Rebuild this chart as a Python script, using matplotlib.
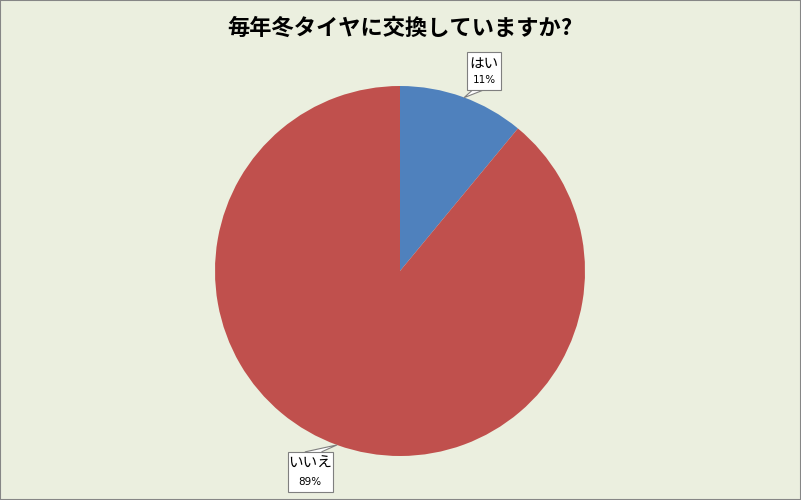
import matplotlib
matplotlib.use("Agg")
import matplotlib.pyplot as plt
import numpy as np
from matplotlib.patches import Rectangle, Polygon

plt.rcParams['font.family'] = ['Noto Sans CJK JP', 'DejaVu Sans']

title = "毎年冬タイヤに交換していますか?"
categories = ["はい", "いいえ"]
values = [11, 89]
colors = ["#4F81BD", "#C0504D"]

W, H = 801, 500
fig = plt.figure(figsize=(W / 100, H / 100), dpi=100)
fig.patch.set_facecolor("#EBEFDF")

cx, cy, r = 400, 271, 185
ax = fig.add_axes([(cx - r) / W, (H - cy - r) / H, 2 * r / W, 2 * r / H])
ax.axis("off")

wedges, _ = ax.pie(values, colors=colors, startangle=90, counterclock=False,
                   radius=1.0, wedgeprops=dict(linewidth=0))
ax.set_xlim(-1, 1)
ax.set_ylim(-1, 1)
ax.set_aspect("equal")

label_layout = [
    dict(center=(0.454, 1.081), size=(0.184, 0.205), tip=(0.346, 0.937)),
    dict(center=(-0.486, -1.086), size=(0.243, 0.216), tip=(-0.34, -0.94)),
]
total = sum(values)
for cat, val, lay in zip(categories, values, label_layout):
    (bx, by), (bw, bh), (tx, ty) = lay["center"], lay["size"], lay["tip"]
    if ty > 0:
        base_y = by - bh / 2
        xa, xb = bx - bw / 2 + 0.03, bx - bw / 2 + 0.09
    else:
        base_y = by + bh / 2
        xa, xb = bx + bw / 2 - 0.15, bx + bw / 2 - 0.06
    poly = Polygon([(xa, base_y), (tx, ty), (xb, base_y)], closed=False,
                   facecolor="white", edgecolor="#7F7F7F", linewidth=0.8,
                   clip_on=False, zorder=5)
    ax.add_patch(poly)
    rect = Rectangle((bx - bw / 2, by - bh / 2), bw, bh, facecolor="white",
                     edgecolor="#7F7F7F", linewidth=0.8, clip_on=False, zorder=6)
    ax.add_patch(rect)
    ax.text(bx, by + bh * 0.2, cat, ha="center", va="center", fontsize=10.5,
            color="black", zorder=7, clip_on=False)
    ax.text(bx, by - bh * 0.24, f"{round(val / total * 100)}%", ha="center",
            va="center", fontsize=7.5, color="black", zorder=7, clip_on=False,
            family=["DejaVu Sans"])

fig.text(400 / W, 1 - 28 / H, title, ha="center", va="center", fontsize=16,
         fontweight="bold", color="black")

fig.add_artist(Rectangle((0, 0), 1, 1, transform=fig.transFigure, fill=False,
                         edgecolor="#868686", linewidth=1.5))

fig.savefig("out.png", dpi=100, facecolor=fig.get_facecolor())
